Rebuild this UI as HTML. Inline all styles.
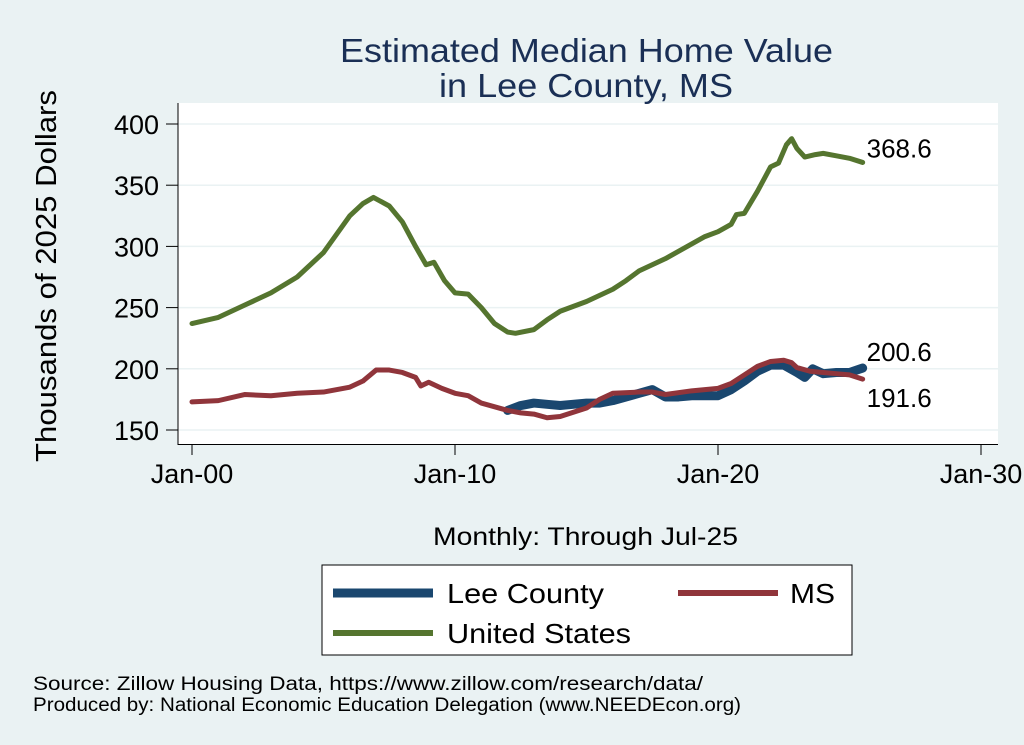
<!DOCTYPE html>
<html><head><meta charset="utf-8"><style>
body{margin:0;background:#eaf2f3;}
svg{display:block;font-family:"Liberation Sans",Arial,sans-serif;}
</style></head><body>
<svg id="chart" width="1024" height="745">
<rect x="0" y="0" width="1024" height="745" fill="#eaf2f3"/>
<rect x="178" y="103" width="820" height="342" fill="#ffffff"/>
<text x="340" y="62" font-size="33" textLength="493" lengthAdjust="spacingAndGlyphs" fill="#1a2f55">Estimated Median Home Value</text>
<text x="439" y="97" font-size="33" textLength="294" lengthAdjust="spacingAndGlyphs" fill="#1a2f55">in Lee County, MS</text>
<text transform="translate(56,462) rotate(-90)" font-size="29" textLength="372" lengthAdjust="spacingAndGlyphs" fill="#000">Thousands of 2025 Dollars</text>
<text x="433" y="545" font-size="25" textLength="305" lengthAdjust="spacingAndGlyphs" fill="#000">Monthly: Through Jul-25</text>
<g id="grid"></g><g id="axes"></g><g id="series"></g><g id="labels"></g>
<rect x="322" y="565" width="530" height="90" fill="#fff" stroke="#000" stroke-width="1"/>
<line x1="333" y1="593" x2="433" y2="593" stroke="#1a476f" stroke-width="9"/>
<text x="447" y="603" font-size="28" textLength="157" lengthAdjust="spacingAndGlyphs">Lee County</text>
<line x1="678" y1="593" x2="778" y2="593" stroke="#90353b" stroke-width="6"/>
<text x="790" y="603" font-size="28" textLength="45" lengthAdjust="spacingAndGlyphs">MS</text>
<line x1="333" y1="633" x2="433" y2="633" stroke="#55752f" stroke-width="6"/>
<text x="447" y="643" font-size="28" textLength="184" lengthAdjust="spacingAndGlyphs">United States</text>
<text x="33" y="690" font-size="19" textLength="670" lengthAdjust="spacingAndGlyphs">Source: Zillow Housing Data, https://www.zillow.com/research/data/</text>
<text x="33" y="711" font-size="19" textLength="708" lengthAdjust="spacingAndGlyphs">Produced by: National Economic Education Delegation (www.NEEDEcon.org)</text>
</svg>
<script>
const yTicks=[150,200,250,300,350,400];
const xTicks=[2000,2010,2020,2030];
const xTickLabels=["Jan-00","Jan-10","Jan-20","Jan-30"];
const usDates=[2000,2001,2002,2003,2004,2005,2005.5,2006,2006.5,2006.9,2007.5,2008,2008.5,2008.9,2009.2,2009.6,2010,2010.5,2011,2011.5,2012,2012.3,2013,2013.5,2014,2015,2016,2016.5,2017,2018,2019,2019.5,2020,2020.5,2020.7,2021,2021.5,2022,2022.3,2022.6,2022.8,2023,2023.3,2023.7,2024,2024.5,2025,2025.5];
const usValues=[237,242,252,262,275,295,310,325,335,340,333,320,300,285,287,272,262,261,250,237,230,229,232,240,247,255,265,272,280,290,302,308,312,318,326,327,345,365,368,383,388,380,373,375,376,374,372,368.6];
const msDates=[2000,2001,2002,2003,2004,2005,2006,2006.5,2007,2007.5,2008,2008.5,2008.7,2009,2009.5,2010,2010.5,2011,2012,2012.5,2013,2013.5,2014,2015,2015.5,2016,2017,2017.5,2018,2019,2020,2020.5,2021,2021.5,2022,2022.5,2022.8,2023,2023.5,2024,2024.5,2025,2025.5];
const msValues=[173,174,179,178,180,181,185,190,199,199,197,193,186,189,184,180,178,172,166,164,163,160,161,168,175,180,181,181,179,182,184,188,195,202,206,207,205,201,198,197,196,195,191.6];
const leeDates=[2012,2012.5,2013,2013.5,2014,2015,2015.5,2016,2017,2017.5,2018,2018.5,2019,2020,2020.5,2021,2021.5,2022,2022.5,2023,2023.3,2023.6,2024,2024.5,2025,2025.5];
const leeValues=[166,170,172,171,170,172,172,174,180,183,177,177,178,178,183,190,198,203,203,197,193,200,196,197,197,200.6];
const endLabels=["368.6","200.6","191.6"];
const NS="http://www.w3.org/2000/svg";
const xS=t=>192+(t-2000)*26.3;
const yS=v=>430-(v-150)*1.224;
function mk(tag,attrs,parent){const e=document.createElementNS(NS,tag);for(const k in attrs)e.setAttribute(k,attrs[k]);document.getElementById(parent).appendChild(e);return e;}
yTicks.forEach(v=>{
  const g=mk('line',{x1:178,x2:998,y1:yS(v),y2:yS(v),stroke:'#eaf2f3','stroke-width':1.5},'grid');
  
  
  const t=mk('line',{x1:166,x2:178,y1:yS(v),y2:yS(v),stroke:'#000'},'axes');
  
  
  const l=mk('text',{x:159,y:yS(v)+10,'font-size':27,'text-anchor':'end'},'axes');l.textContent=v;
  
  
});
const ya=mk('line',{x1:178,x2:178,y1:103,y2:445,stroke:'#000'},'axes');


const xa=mk('line',{x1:178,x2:998,y1:444.5,y2:444.5,stroke:'#000'},'axes');


xTicks.forEach((t,i)=>{
  const k=mk('line',{x1:xS(t),x2:xS(t),y1:445,y2:455,stroke:'#000'},'axes');
  
  
  const l=mk('text',{x:xS(t),y:483,'font-size':27,'text-anchor':'middle'},'axes');l.textContent=xTickLabels[i];
  
  
});
function line(d,v,color,w,name){
  const p=mk('polyline',{points:d.map((t,i)=>xS(t)+','+yS(v[i])).join(' '),fill:'none',stroke:color,'stroke-width':w,'stroke-linejoin':'round','stroke-linecap':'round'},'series');
  
  
}
line(leeDates,leeValues,'#1a476f',9,'lee-county-line');
line(msDates,msValues,'#90353b',5,'ms-line');
line(usDates,usValues,'#55752f',5,'us-line');
const ends=[[usDates,usValues,-14],[leeDates,leeValues,-16],[msDates,msValues,19]];
ends.forEach((e,i)=>{
  const d=e[0],v=e[1];
  const l=mk('text',{x:xS(d[d.length-1])+4,y:yS(v[v.length-1])+e[2]+9,'font-size':26},'labels');
  l.textContent=endLabels[i];
  
  
});
</script>
</body></html>
